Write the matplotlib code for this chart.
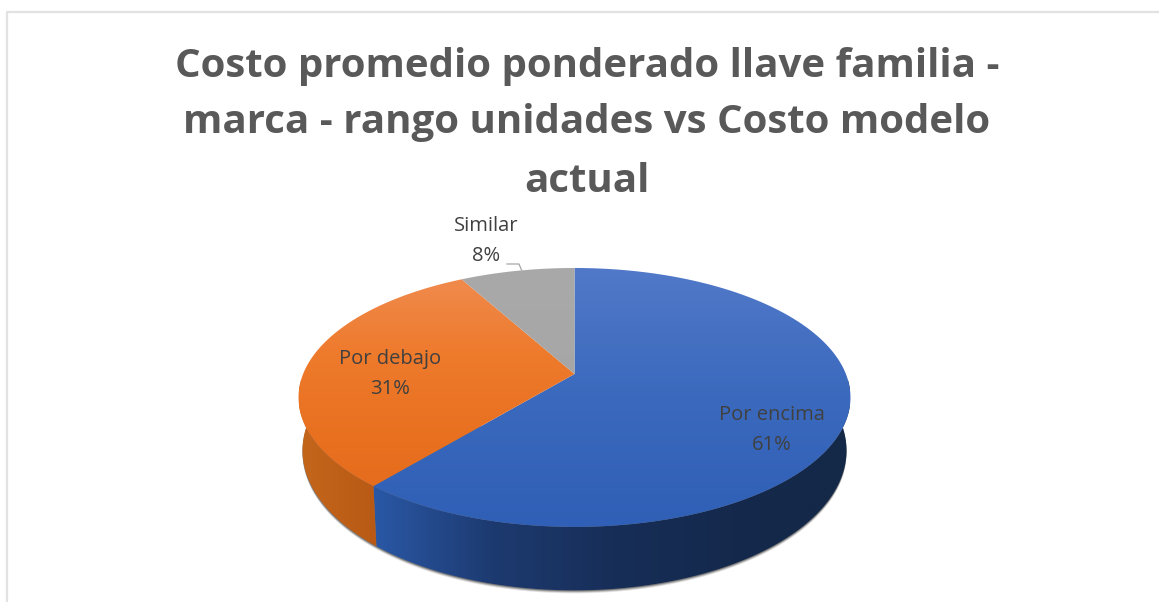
import numpy as np
import matplotlib
matplotlib.use('Agg')
import matplotlib.pyplot as plt
from matplotlib.colors import LinearSegmentedColormap
from matplotlib.patches import Polygon

title_lines = ['Costo promedio ponderado llave familia -',
               'marca - rango unidades vs Costo modelo',
               'actual']
categories = ['Por encima', 'Por debajo', 'Similar']
values = [61, 31, 8]

top_colors = [['#5279c9', '#3a69bd', '#2f5fb6'],
              ['#f08d52', '#ee7a2c', '#e8701f', '#e2691b'],
              ['#a9a9a9', '#a3a3a3']]
side_colors = [['#2a58a6', '#1d3a70', '#172e58', '#14294c', '#142848'],
               ['#c4661a', '#b85a15'],
               ['#8a8a8a', '#8a8a8a']]


def project(theta, y0, a, k, c=-0.181):
    # theta runs clockwise from the back of the pie
    u = np.sin(theta)
    v = -np.cos(theta)
    w = 1 + c * v
    return 574.5 + k * u / w, y0 + a * v / w


def top_rim(theta):
    return project(theta, 374, 125.2, 271.4)


def low_rim(theta):
    return project(theta, 425, 135.4, 267.5)


def gradient_fill(ax, poly, colors, extent, horizontal):
    cmap = LinearSegmentedColormap.from_list('fill', colors)
    grad = np.linspace(0, 1, 256)
    grad = grad.reshape(1, -1) if horizontal else grad.reshape(-1, 1)
    ax.add_patch(poly)
    im = ax.imshow(grad, cmap=cmap, extent=extent, origin='upper', aspect='auto',
                   zorder=poly.get_zorder(), interpolation='bilinear')
    im.set_clip_path(poly)


fig = plt.figure(figsize=(11.59, 6.02), dpi=100)
ax = fig.add_axes([0, 0, 1, 1])

# outer chart border
ax.plot([6.5, 6.5, 1159], [602, 11.5, 11.5], color='#e2e2e2', lw=1.6, zorder=1)

# slice angles from the values
fracs = np.array(values) / sum(values)
edges = np.concatenate([[0], np.cumsum(fracs)]) * 2 * np.pi

# soft shadow under the pie
t = np.linspace(np.pi / 2, 3 * np.pi / 2, 200)
sx, sy = low_rim(t)
for off, alpha in [(3.0, 0.18), (2.0, 0.35), (1.0, 0.6)]:
    ax.add_patch(Polygon(np.column_stack([sx, sy + off]), closed=True, fc='#555555',
                         ec='none', alpha=alpha, zorder=2))

# walls of the visible front half
for i in range(3):
    a0 = max(edges[i], np.pi / 2)
    a1 = min(edges[i + 1], 3 * np.pi / 2)
    if a1 <= a0:
        continue
    t = np.linspace(a0, a1, 200)
    x1, y1 = top_rim(t)
    x2, y2 = low_rim(t[::-1])
    pts = np.column_stack([np.concatenate([x1, x2]), np.concatenate([y1, y2])])
    poly = Polygon(pts, closed=True, fc='none', ec='none', zorder=3)
    xmin, xmax = pts[:, 0].min(), pts[:, 0].max()
    gradient_fill(ax, poly, side_colors[i], (xmin, xmax, 600, 380), True)

# top face
cx, cy = 574.5, 374
for i in range(3):
    t = np.linspace(edges[i], edges[i + 1], 300)
    x, y = top_rim(t)
    pts = np.vstack([[cx, cy], np.column_stack([x, y])])
    poly = Polygon(pts, closed=True, fc='none', ec='none', zorder=4)
    gradient_fill(ax, poly, top_colors[i], (290, 860, 530, 266), False)

# data labels
label_pos = [(771.5, 430), (390, 374), (486, 241)]
for name, val, (lx, ly) in zip(categories, values, label_pos):
    ax.text(lx, ly, f'{name}\n{val}%', ha='center', va='center', color='#404040',
            family='Open Sans', fontsize=14.5, linespacing=1.62, zorder=6)

# leader line for the small slice
ax.plot([507, 519, 521.5], [264, 264, 270], color='#a6a6a6', lw=0.9, zorder=5)

for line, ly in zip(title_lines, [66, 123, 182]):
    ax.text(587, ly, line, ha='center', va='center', color='#595959',
            family='Open Sans', weight='bold', fontsize=29, zorder=6)

ax.set_xlim(0, 1159)
ax.set_ylim(602, 0)
ax.axis('off')
fig.savefig('out.png', dpi=100, facecolor='white')
